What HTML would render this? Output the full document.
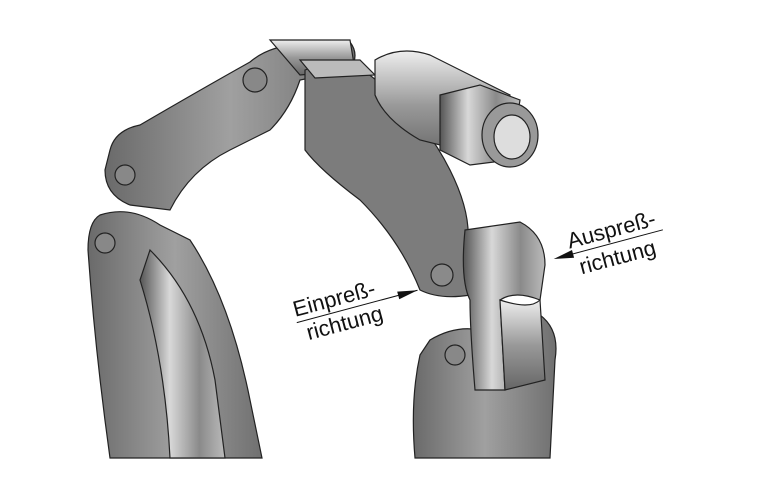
<!DOCTYPE html>
<html><head><style>
html,body{margin:0;padding:0;background:#fff;}
svg{display:block}
text{font-family:"Liberation Sans",sans-serif;font-size:22px;fill:#111}
</style></head><body>
<svg width="764" height="496" viewBox="0 0 764 496">
<defs>
<linearGradient id="g1" x1="0" x2="1"><stop offset="0" stop-color="#6a6a6a"/><stop offset=".5" stop-color="#a0a0a0"/><stop offset="1" stop-color="#707070"/></linearGradient>
<linearGradient id="g2" x1="0" x2="1"><stop offset="0" stop-color="#555"/><stop offset=".35" stop-color="#d8d8d8"/><stop offset=".7" stop-color="#8a8a8a"/><stop offset="1" stop-color="#bbb"/></linearGradient>
<linearGradient id="g3" x1="0" y1="0" x2="0" y2="1"><stop offset="0" stop-color="#eee"/><stop offset=".5" stop-color="#999"/><stop offset="1" stop-color="#666"/></linearGradient>
</defs>
<g stroke="#222" stroke-width="1.2">
<path d="M100 215 Q130 205 160 225 L190 240 Q230 300 250 400 L262 458 L110 458 Q95 350 88 250 Q88 222 100 215Z" fill="url(#g1)"/>
<path d="M150 250 Q200 300 215 380 L225 458 L170 458 Q165 360 140 280Z" fill="url(#g2)"/>
<circle cx="105" cy="243" r="10" fill="#888"/>
<path d="M110 150 Q115 130 140 125 Q200 90 250 62 Q270 45 300 45 L350 42 Q360 55 350 70 L300 80 Q290 110 270 130 L230 150 Q190 170 170 210 L130 205 Q105 195 105 170Z" fill="url(#g1)"/>
<path d="M270 40 L350 40 L355 70 L300 75Z" fill="url(#g3)"/>
<circle cx="125" cy="175" r="10" fill="#888"/>
<circle cx="255" cy="80" r="12" fill="#888"/>
<path d="M305 70 Q330 60 360 68 Q420 110 450 170 Q470 210 468 240 L470 295 Q440 300 420 290 Q400 240 360 200 Q320 170 305 150Z" fill="#7c7c7c"/>
<path d="M300 60 L360 60 L375 75 L315 78Z" fill="#bbb"/>
<circle cx="442" cy="275" r="11" fill="#8a8a8a"/>
<path d="M375 60 Q400 45 430 55 L510 95 L500 160 L420 140 Q385 120 375 95Z" fill="url(#g3)"/>
<path d="M440 95 L480 85 L520 100 L510 160 L470 165 L440 150Z" fill="url(#g2)"/>
<ellipse cx="510" cy="135" rx="28" ry="32" fill="#999"/>
<ellipse cx="512" cy="137" rx="18" ry="22" fill="#ddd"/>
<path d="M430 340 Q455 325 480 330 L540 315 Q560 330 555 360 L550 458 L415 458 Q410 400 420 355Z" fill="url(#g1)"/>
<circle cx="455" cy="355" r="10" fill="#888"/>
<path d="M465 230 L520 222 Q545 235 545 265 L540 300 Q515 290 500 300 L505 390 L475 390 Q470 330 470 300 Q460 280 465 230Z" fill="url(#g2)"/>
<path d="M500 300 Q530 310 540 300 L545 380 L505 390Z" fill="url(#g3)"/>
</g>
<g transform="rotate(-15 340 310)">
<text x="295" y="305">Einpreß-</text>
<text x="302" y="331">richtung</text>
<line x1="295" y1="311" x2="420" y2="311" stroke="#111" stroke-width="1"/>
<path d="M420 311 L400 307 L400 315Z" fill="#111"/>
</g>
<g transform="rotate(-15 610 245)">
<text x="570" y="238">Auspreß-</text>
<text x="575" y="266">richtung</text>
<line x1="560" y1="244" x2="665" y2="244" stroke="#111" stroke-width="1"/>
<path d="M552 244 L572 240 L572 248Z" fill="#111"/>
</g>
</svg>
</body></html>
